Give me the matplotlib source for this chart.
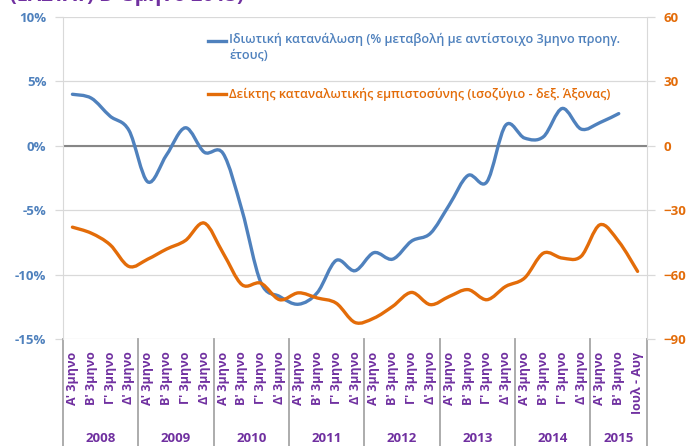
import numpy as np
import matplotlib.pyplot as plt
from matplotlib.path import Path
from matplotlib.patches import PathPatch
from matplotlib.lines import Line2D
import matplotlib.transforms as mtransforms

plt.rcParams['font.family'] = ['Open Sans', 'DejaVu Sans']

# === Data ===
years = ['2008', '2009', '2010', '2011', '2012', '2013', '2014', '2015']
quarters = ["Α' 3μηνο", "Β' 3μηνο", "Γ' 3μηνο", "Δ' 3μηνο"]
categories = quarters * 7 + ["Α' 3μηνο", "Β' 3μηνο", "Ιουλ - Αυγ"]
year_sizes = [4, 4, 4, 4, 4, 4, 4, 3]

consumption = [4.0, 3.7, 2.3, 1.2, -2.8, -0.7, 1.4, -0.5,
               -0.6, -5.0, -10.6, -11.7, -12.3, -11.4, -8.9, -9.7,
               -8.3, -8.8, -7.4, -6.8, -4.6, -2.3, -2.8, 1.6,
               0.6, 0.7, 2.9, 1.3, 1.8, 2.5]
confidence = [-37.9, -40.7, -46.1, -56.2, -52.8, -48.1, -44.1, -36.0,
              -50.0, -64.7, -64.0, -71.7, -68.5, -70.9, -73.3, -82.3,
              -80.3, -74.8, -68.3, -74.0, -70.2, -67.0, -71.7, -65.5,
              -61.6, -50.0, -52.3, -51.5, -36.8, -44.6, -58.5]

label_cons = "Ιδιωτική κατανάλωση (% μεταβολή με αντίστοιχο 3μηνο προηγ.\nέτους)"
label_conf = "Δείκτης καταναλωτικής εμπιστοσύνης (ισοζύγιο - δεξ. Άξονας)"
title = "(ΕΛΣΤΑΤ) Β' 3μηνο 2015)"

blue = '#4F81BD'
orange = '#E36C09'
purple = '#7030A0'


def smooth_path(x, y):
    # Excel-like smoothed line: cubic Bezier through the points
    x = np.asarray(x, float)
    y = np.asarray(y, float)
    verts = [(x[0], y[0])]
    codes = [Path.MOVETO]
    n = len(x)
    for i in range(n - 1):
        x0, y0 = (x[i - 1], y[i - 1]) if i > 0 else (x[i], y[i])
        x3, y3 = (x[i + 2], y[i + 2]) if i + 2 < n else (x[i + 1], y[i + 1])
        c1 = (x[i] + (x[i + 1] - x0) / 6, y[i] + (y[i + 1] - y0) / 6)
        c2 = (x[i + 1] - (x3 - x[i]) / 6, y[i + 1] - (y3 - y[i]) / 6)
        verts += [c1, c2, (x[i + 1], y[i + 1])]
        codes += [Path.CURVE4] * 3
    return Path(verts, codes)


fig = plt.figure(figsize=(6.94, 4.46), dpi=100)
ax = fig.add_axes([63 / 694, 107 / 446, 584 / 694, 322 / 446])
ax2 = ax.twinx()

n = len(categories)
xs = np.arange(n)
ax.set_xlim(-0.5, n - 0.5)
ax.set_ylim(-15, 10)
ax2.set_ylim(-90, 60)

ax.add_patch(PathPatch(smooth_path(xs[:len(consumption)], consumption),
                       fill=False, edgecolor=blue, lw=2.4, capstyle='round', zorder=3))
ax2.add_patch(PathPatch(smooth_path(xs[:len(confidence)], confidence),
                        fill=False, edgecolor=orange, lw=2.4, capstyle='round', zorder=3))

# grid and axes
ax.set_yticks(np.arange(-15, 11, 5))
ax.set_yticklabels([f"{v}%" for v in range(-15, 11, 5)])
ax2.set_yticks(np.arange(-90, 61, 30))
for v in range(-15, 11, 5):
    ax.axhline(v, color='#D9D9D9', lw=0.9, zorder=1)
ax.axhline(0, color='#868686', lw=1.5, zorder=2)

for a in (ax, ax2):
    for s in ('top', 'bottom'):
        a.spines[s].set_visible(False)
ax.spines['right'].set_visible(False)
ax2.spines['left'].set_visible(False)
ax.spines['left'].set_color('#D9D9D9')
ax2.spines['right'].set_color('#D9D9D9')

ax.tick_params(axis='y', colors='#D9D9D9', length=6, width=0.9, pad=6,
               labelcolor=blue, labelsize=9.5)
ax2.tick_params(axis='y', colors='#D9D9D9', length=6, width=0.9, pad=6,
                labelcolor=orange, labelsize=9.5)
for t in ax.get_yticklabels() + ax2.get_yticklabels():
    t.set_fontweight('bold')

ax.set_xticks(xs)
ax.set_xticklabels(categories, rotation=90, va='top', ha='center',
                   color=purple, fontsize=9, fontweight='bold')
ax.tick_params(axis='x', length=0, pad=9)

# year separators and labels under the axis
trans = mtransforms.blended_transform_factory(ax.transData, ax.transAxes)
edges = np.concatenate([[0], np.cumsum(year_sizes)]) - 0.5
for e in edges:
    ax.add_line(Line2D([e, e], [0, -0.35], transform=trans, color='#A6A6A6',
                       lw=1.3, clip_on=False))
for i, yr in enumerate(years):
    mid = (edges[i] + edges[i + 1]) / 2
    ax.text(mid, -0.31, yr, transform=trans, ha='center', va='center',
            color=purple, fontsize=9.5, fontweight='bold')

# legend drawn by hand, like the reference
fig.add_artist(Line2D([208 / 694, 226 / 694], [1 - 41 / 446] * 2, color=blue, lw=2.4))
fig.text(229 / 694, 1 - 33 / 446, label_cons, color=blue, fontsize=9.1,
         fontweight='semibold', va='top', ha='left', linespacing=1.3)
fig.add_artist(Line2D([208 / 694, 226 / 694], [1 - 94 / 446] * 2, color=orange, lw=2.4))
fig.text(229 / 694, 1 - 94 / 446, label_conf, color=orange, fontsize=9.1,
         fontweight='semibold', va='center', ha='left')

# title clipped at the top edge, as in the reference
fig.text(10 / 694, 1 - 0.5 / 446, title, color=purple, fontsize=14.5,
         fontweight='bold', va='baseline', ha='left')

fig.savefig('out.png', dpi=100)
